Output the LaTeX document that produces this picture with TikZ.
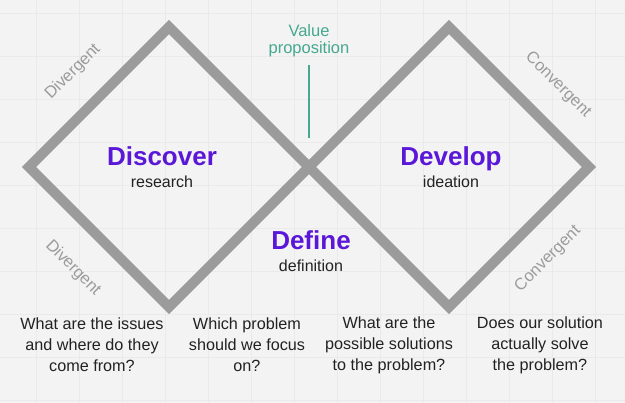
\documentclass[tikz,border=0pt]{standalone}
\usepackage{fontspec}
\setmainfont{Liberation Sans}
\usetikzlibrary{positioning,calc}
\definecolor{fondo}{HTML}{F3F3F3}
\definecolor{rejilla}{HTML}{EAEAEA}
\definecolor{gris}{HTML}{9B9B9B}
\definecolor{morado}{HTML}{5A17D8}
\definecolor{verde}{HTML}{45A88F}
\definecolor{texto}{HTML}{222222}

\begin{document}
\begin{tikzpicture}[x=1pt,y=1pt,
  rombo/.style={draw=gris,line width=10pt,miter limit=10},
  titulo/.style={font=\fontsize{26}{28}\selectfont\bfseries,text=morado,inner sep=0pt,anchor=base},
  sub/.style={font=\fontsize{16}{18}\selectfont,text=texto,inner sep=0pt,anchor=base},
  lado/.style={font=\fontsize{16.5}{18}\selectfont,text=gris,inner sep=0pt},
  pregunta/.style={font=\fontsize{16.2}{21}\selectfont,text=texto,align=center,inner sep=0pt},
  valor/.style={font=\fontsize{16.5}{17}\selectfont,text=verde,align=center,inner sep=0pt}]
  % fondo y rejilla
  \fill[fondo] (0,0) rectangle (625,403);
  \useasboundingbox (0,0) rectangle (625,403);
  \foreach \gx in {36,79,...,625} \draw[rejilla,line width=0.8pt] (\gx,0) -- (\gx,403);
  \foreach \gy in {390,347,...,0} \draw[rejilla,line width=0.8pt] (0,\gy) -- (625,\gy);
  % los dos rombos
  \coordinate (cruce) at (309,236);
  \draw[rombo] (169,376) -- (29,236) -- (169,96) -- (cruce) -- cycle;
  \draw[rombo] (449,376) -- (cruce) -- (449,96) -- (589,236) -- cycle;
  % propuesta de valor
  \node[valor] (vp) at (309,362) {Value\\proposition};
  \coordinate (vpfin) at (309,265);
  \draw[verde,line width=1.6pt] ([yshift=-8pt]vp.south) -- (vpfin);
  % fases
  \node[titulo] (disc) at (162,237) {Discover};
  \node[sub] (disc2) at (162,215) {research};
  \node[titulo] (dev) at (451,237) {Develop};
  \node[sub] (dev2) at (451,215) {ideation};
  \node[titulo] (def) at (311,153) {Define};
  \node[sub] (def2) at (311,131) {definition};
  % etiquetas de los lados
  \node[lado,rotate=45] (div1) at (73,331) {Divergent};
  \node[lado,rotate=-45] (div2) at (73,135) {Divergent};
  \node[lado,rotate=-45] (conv1) at (558,318) {Convergent};
  \node[lado,rotate=45] (conv2) at (548,144) {Convergent};
  % preguntas
  \node[pregunta] (q1) at (92,58) {What are the issues\\and where do they\\come from?};
  \node[pregunta] (q2) at (247,58) {Which problem\\should we focus\\on?};
  \node[pregunta] (q3) at (389,58) {What are the\\possible solutions\\to the problem?};
  \node[pregunta] (q4) at (540,58) {Does our solution\\actually solve\\the problem?};
\end{tikzpicture}
\end{document}
